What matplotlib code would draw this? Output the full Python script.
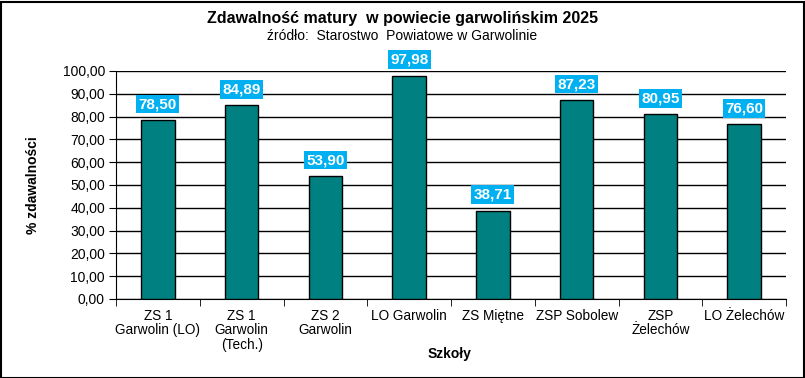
import matplotlib.pyplot as plt
import numpy as np

schools = ["ZS 1\nGarwolin (LO)", "ZS 1\nGarwolin\n(Tech.)", "ZS 2\nGarwolin", "LO Garwolin",
           "ZS Miętne", "ZSP Sobolew", "ZSP\nŻelechów", "LO Żelechów"]
pass_rate = [78.50, 84.89, 53.90, 97.98, 38.71, 87.23, 80.95, 76.60]
yticks = [0, 10, 20, 30, 40, 50, 60, 70, 80, 90, 100]

plt.rcParams["font.family"] = ["Liberation Sans", "DejaVu Sans"]

W, H = 805, 378
fig = plt.figure(figsize=(W / 100, H / 100), dpi=100)
ax = fig.add_axes([116 / W, 1 - 299 / H, (786 - 116) / W, (299 - 71) / H])

x = np.arange(len(schools))
ax.bar(x, pass_rate, width=0.4, color="#008080", edgecolor="black", linewidth=1, zorder=3)
ax.set_xlim(-0.5, len(schools) - 0.5)
ax.set_ylim(0, 100)

ax.set_yticks(yticks)
ax.set_yticklabels([f"{v:.2f}".replace(".", ",") for v in yticks], fontsize=10)
ax.yaxis.grid(True, color="black", linewidth=1, zorder=0)
ax.tick_params(axis="y", direction="out", length=5, pad=3)

ax.set_xticks(x)
ax.set_xticklabels(schools, fontsize=9.8, linespacing=1.05)
ax.set_xticks(np.arange(len(schools) + 1) - 0.5, minor=True)
ax.tick_params(axis="x", which="major", length=0, pad=7)
ax.tick_params(axis="x", which="minor", direction="out", length=5)

for side in ["top", "right"]:
    ax.spines[side].set_visible(False)

for xi, v in zip(x, pass_rate):
    ax.annotate(f"{v:.2f}".replace(".", ","), (xi, v), xytext=(0, 11.5), textcoords="offset points",
                ha="center", va="center", color="white", fontsize=11, fontweight="bold",
                bbox=dict(boxstyle="square,pad=0.15", facecolor="#00B0F0", edgecolor="none"),
                zorder=5, annotation_clip=False)

ax.set_ylabel("% zdawalności", fontsize=10, fontweight="bold")
ax.yaxis.set_label_coords((40 - 116) / (786 - 116), 0.5)
ax.set_xlabel("Szkoły", fontsize=10, fontweight="bold")
ax.xaxis.set_label_coords((450 - 116) / (786 - 116), -(347 - 299) / (299 - 71))

fig.text(0.5, 1 - 18 / H, "Zdawalność matury  w powiecie garwolińskim 2025", ha="center", va="center",
         fontsize=11.5, fontweight="bold")
fig.text(0.5, 1 - 36 / H, "źródło:  Starostwo  Powiatowe w Garwolinie", ha="center", va="center",
         fontsize=10)

fig.patches.append(plt.Rectangle((0.5 / W, 0.5 / H), 1 - 2 / W, 1 - 2 / H, transform=fig.transFigure,
                                 fill=False, edgecolor="black", linewidth=1.5))

fig.savefig("out.png", dpi=100)
